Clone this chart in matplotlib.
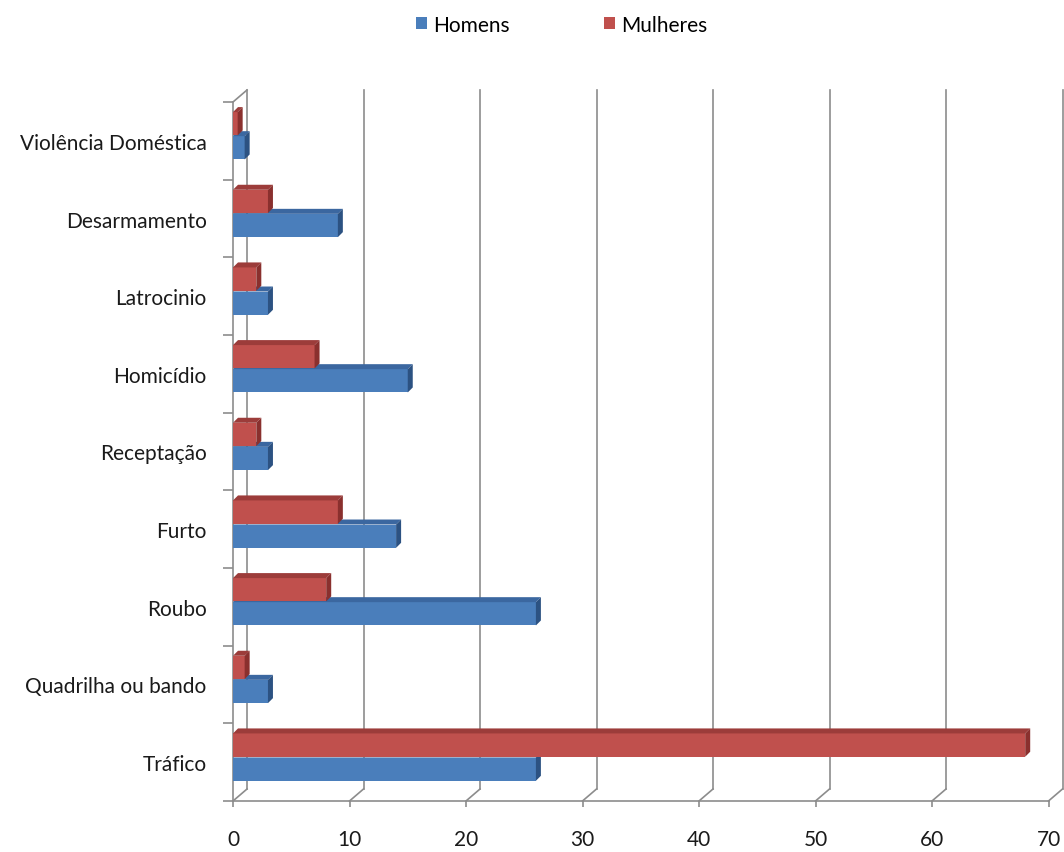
import matplotlib
matplotlib.use("Agg")
import matplotlib.pyplot as plt
from matplotlib.patches import Polygon, Patch
import numpy as np

# ---- data (top to bottom as shown) ----
categories = ["Violência Doméstica", "Desarmamento", "Latrocinio", "Homicídio",
              "Receptação", "Furto", "Roubo", "Quadrilha ou bando", "Tráfico"]
homens = [1, 9, 3, 15, 3, 14, 26, 3, 26]
mulheres = [0.4, 3, 2, 7, 2, 9, 8, 1, 68]
x_ticks = [0, 10, 20, 30, 40, 50, 60, 70]

# ---- style ----
blue_face, blue_top, blue_side = "#4a7ebb", "#3b67a0", "#2c5282"
red_face, red_top, red_side = "#c0504d", "#9c3c3a", "#8a302e"
grid_col = "#8c8c8c"
FONT = "Lato"
FS = 15

fig = plt.figure(figsize=(10.64, 8.53), dpi=100)
W, H = 1064, 853
x0_px, x70_px = 233, 1048.5
ybot_px, ytop_px = 802, 103
ax = fig.add_axes([x0_px / W, 1 - ybot_px / H, (x70_px - x0_px) / W, (ybot_px - ytop_px) / H])
xmin, xmax = 0, 70
ymin, ymax = -0.5, len(categories) - 0.5
ax.set_xlim(xmin, xmax)
ax.set_ylim(ymin, ymax)

pxx = (x70_px - x0_px) / (xmax - xmin)   # px per x unit
pxy = (ybot_px - ytop_px) / (ymax - ymin)  # px per y unit

# back wall / floor offsets
gdx, gdy = 14 / pxx, 12 / pxy
# bar depth offsets
bdx, bdy = 5 / pxx, 5 / pxy

n = len(categories)
ypos = np.arange(n)[::-1]  # first category at top

# walls: back gridlines and floor diagonals
for v in x_ticks:
    ax.plot([v + gdx, v + gdx], [ymin + gdy, ymax + gdy], color=grid_col, lw=1.2,
            clip_on=False, zorder=1)
    ax.plot([v, v + gdx], [ymin, ymin + gdy], color=grid_col, lw=1.2, clip_on=False, zorder=1)
# floor front edge and left front edge
ax.plot([xmin, xmax], [ymin, ymin], color=grid_col, lw=1.2, clip_on=False, zorder=1)
ax.plot([xmin, xmin], [ymin, ymax], color=grid_col, lw=1.2, clip_on=False, zorder=1)
ax.plot([xmin, xmin + gdx], [ymax, ymax + gdy], color=grid_col, lw=1.2, clip_on=False, zorder=1)

bh = 0.30
off_b, off_r = -0.09, 0.22


def bar3d(y, v, face, top, side, z):
    ax.barh(y, v, height=bh, left=0, color=face, edgecolor="none", zorder=z)
    t = y + bh / 2
    b = y - bh / 2
    ax.add_patch(Polygon([(0, t), (v, t), (v + bdx, t + bdy), (bdx, t + bdy)],
                         closed=True, facecolor=top, edgecolor="none", zorder=z))
    ax.add_patch(Polygon([(v, b), (v + bdx, b + bdy), (v + bdx, t + bdy), (v, t)],
                         closed=True, facecolor=side, edgecolor="none", zorder=z))


for i in range(n):
    bar3d(ypos[i] + off_b, homens[i], blue_face, blue_top, blue_side, 3)
    bar3d(ypos[i] + off_r, mulheres[i], red_face, red_top, red_side, 4)

for s in ax.spines.values():
    s.set_visible(False)

ax.set_yticks(ypos)
ax.set_yticklabels(categories, fontsize=FS, family=FONT, color="#1a1a1a")
ax.set_yticks(np.arange(ymin, ymax + 0.01, 1.0), minor=True)
ax.tick_params(axis="y", which="major", length=0, pad=19)
ax.tick_params(axis="y", which="minor", length=7, color=grid_col, width=1.2, direction="out")

ax.set_xticks(x_ticks)
ax.set_xticklabels([str(v) for v in x_ticks], fontsize=FS, family=FONT, color="#1a1a1a")
ax.tick_params(axis="x", which="major", length=4, color=grid_col, width=1.2, pad=16)

handles = [Patch(facecolor=blue_face, edgecolor="none", label="Homens"),
           Patch(facecolor=red_face, edgecolor="none", label="Mulheres")]
fig.legend(handles=handles, loc="center", bbox_to_anchor=(0.528, 0.970), ncol=2,
           frameon=False, handlelength=0.55, handleheight=0.55, handletextpad=0.3,
           columnspacing=4.5, prop={"family": FONT, "size": FS})

fig.savefig("out.png", dpi=100, facecolor="white")
